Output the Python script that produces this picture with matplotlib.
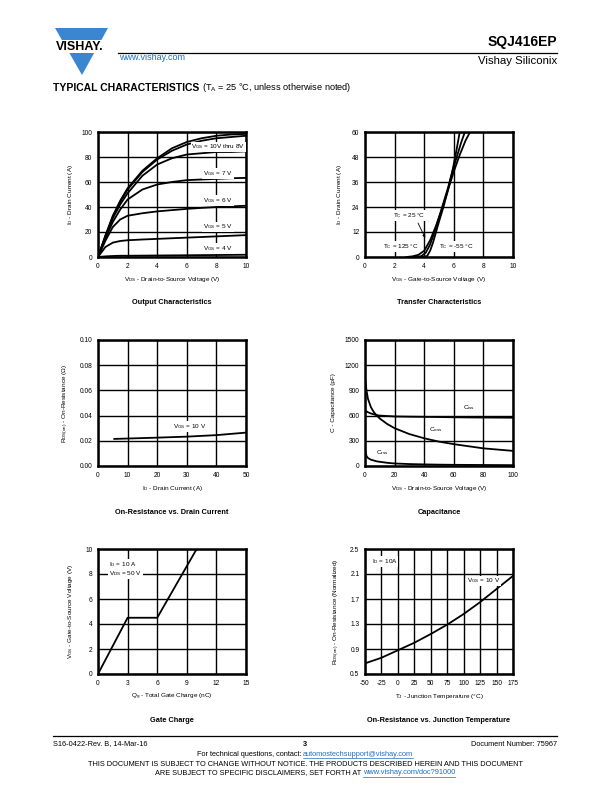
import matplotlib
matplotlib.use("Agg")
import matplotlib.pyplot as plt
from matplotlib.patches import Polygon, Rectangle
from matplotlib.lines import Line2D

plt.rcParams['font.family'] = ['Liberation Sans', 'DejaVu Sans']
plt.rcParams['mathtext.default'] = 'regular'
plt.rcParams['axes.unicode_minus'] = False

W, H = 612, 792

# ---- data ----
# output characteristics (I_D vs V_DS)
out_vds = [0, 0.5, 1, 1.5, 2, 3, 4, 5, 6, 7, 8, 9, 10]
out_id_10v = [0, 17, 33, 45, 55, 69, 79, 87, 92, 95, 97, 98, 98.5]
out_id_9v = [0, 17, 32, 44, 54, 68, 78, 85, 90, 93, 95, 96, 97]
out_id_8v = [0, 16, 31, 42, 51, 65, 74, 79, 82, 83, 84, 84, 84.5]
out_id_7v = [0, 15, 28, 38, 46, 54, 58, 60, 61.5, 62, 62.5, 63, 63.3]
out_id_6v = [0, 13, 24, 30, 33, 35, 36.5, 37.5, 38.5, 39.3, 40, 40.5, 41]
out_id_5v = [0, 8, 11.5, 12.8, 13.4, 14, 14.5, 15, 15.5, 16, 16.5, 17, 17.5]
out_id_4v = [0, 0.5, 0.8, 1, 1, 1.1, 1.2, 1.3, 1.4, 1.5, 1.6, 1.7, 1.8]
out_labels = ["V$_{GS}$ = 10V thru 8V", "V$_{GS}$ = 7 V", "V$_{GS}$ = 6 V",
              "V$_{GS}$ = 5 V", "V$_{GS}$ = 4 V"]
out_label_y = [88, 67, 45, 24, 7]

# transfer characteristics (I_D vs V_GS)
tr_vgs_125 = [2.8, 3.2, 3.6, 4.0, 4.4, 4.8, 5.2, 5.6, 6.0, 6.4, 6.8, 7.1]
tr_id_125 = [0, 0.3, 1, 3, 8, 15, 23, 32, 41, 49, 56, 60]
tr_vgs_25 = [3.4, 3.8, 4.1, 4.4, 4.7, 5.0, 5.3, 5.6, 5.9, 6.2, 6.5, 6.75]
tr_id_25 = [0, 0.4, 2, 6, 12, 19, 26, 33, 41, 48, 55, 60]
tr_vgs_m55 = [3.9, 4.2, 4.4, 4.6, 4.8, 5.0, 5.3, 5.6, 5.9, 6.2, 6.4]
tr_id_m55 = [0, 0.5, 3, 7, 12, 17, 24, 32, 41, 52, 60]

# on-resistance vs drain current
ron_id = [5.5, 10, 20, 30, 40, 50]
ron_val = [0.0215, 0.0218, 0.0225, 0.0233, 0.0245, 0.0265]

# capacitance vs V_DS
cap_vds = [0.3, 1, 2, 4, 6, 8, 10, 15, 20, 30, 40, 50, 60, 70, 80, 90, 100]
c_iss = [660, 650, 640, 625, 615, 605, 600, 595, 590, 587, 585, 583, 580, 578, 577, 576, 575]
c_oss = [1000, 900, 800, 700, 640, 600, 565, 500, 450, 380, 330, 290, 260, 235, 210, 195, 180]
c_rss = [180, 120, 95, 75, 65, 55, 50, 38, 30, 23, 19, 16, 14, 13, 12, 11, 10]

# gate charge
qg = [0, 3, 6, 10]
vgs_qg = [0, 4.5, 4.5, 10]

# normalized on-resistance vs junction temperature
tj = [-50, -25, 0, 25, 50, 75, 100, 125, 150, 175]
ron_norm = [0.67, 0.76, 0.88, 1.0, 1.14, 1.29, 1.46, 1.65, 1.86, 2.07]

fig = plt.figure(figsize=(W / 100, H / 100), dpi=100)
LBL = 4.6
BLUE = '#3a86d0'
LINK = '#1f6fc0'


def add_ax(l, t, r, b):
    return fig.add_axes([l / W, 1 - b / H, (r - l) / W, (b - t) / H])


def style(ax, xlim, ylim, xt, yt, ytl=None):
    ax.set_xlim(*xlim)
    ax.set_ylim(*ylim)
    ax.set_xticks(xt)
    ax.set_yticks(yt)
    if ytl is not None:
        ax.set_yticklabels(ytl)
    ax.grid(True, color='black', lw=1.0)
    ax.set_axisbelow(True)
    ax.tick_params(length=0, labelsize=4.8, pad=4)
    for s in ax.spines.values():
        s.set_linewidth(1.8)


def ftext(x, y, s, **kw):
    return fig.text(x / W, 1 - y / H, s, **kw)


def boxed(ax, x, y, s, **kw):
    ax.text(x, y, s, fontsize=LBL, va='center',
            bbox=dict(fc='white', ec='none', pad=0.6), **kw)


# ---- output characteristics ----
ax1 = add_ax(98, 132, 246, 257)
style(ax1, (0, 10), (0, 100), range(0, 11, 2), range(0, 101, 20))
for ys in [out_id_10v, out_id_9v, out_id_8v, out_id_7v, out_id_6v, out_id_5v, out_id_4v]:
    ax1.plot(out_vds, ys, color='black', lw=1.3)
for s, y in zip(out_labels, out_label_y):
    boxed(ax1, 9.95 if 'thru' in s else 9.1, y, s, ha='right')
ax1.set_xlabel("V$_{DS}$ - Drain-to-Source Voltage (V)", fontsize=LBL, labelpad=4)
ax1.set_ylabel("I$_{D}$ - Drain Current (A)", fontsize=LBL, labelpad=5)

# ---- transfer characteristics ----
ax2 = add_ax(365, 132, 513, 257)
style(ax2, (0, 10), (0, 60), range(0, 11, 2), range(0, 61, 12))
ax2.plot(tr_vgs_125, tr_id_125, color='black', lw=1.3)
ax2.plot(tr_vgs_25, tr_id_25, color='black', lw=1.3)
ax2.plot(tr_vgs_m55, tr_id_m55, color='black', lw=1.3)
boxed(ax2, 1.9, 20, "T$_{C}$ = 25 °C")
boxed(ax2, 1.2, 5, "T$_{C}$ = 125 °C")
boxed(ax2, 5.0, 5, "T$_{C}$ = -55 °C")
ax2.annotate("", xy=(4.15, 8), xytext=(3.5, 17.5),
             arrowprops=dict(arrowstyle='-|>', color='black', lw=0.6,
                             mutation_scale=4))
ax2.set_xlabel("V$_{GS}$ - Gate-to-Source Voltage (V)", fontsize=LBL, labelpad=4)
ax2.set_ylabel("I$_{D}$ - Drain Current (A)", fontsize=LBL, labelpad=6)

# ---- on-resistance vs drain current ----
ax3 = add_ax(98, 340, 246, 466)
style(ax3, (0, 50), (0, 0.10), range(0, 51, 10), [0, 0.02, 0.04, 0.06, 0.08, 0.10],
      ["0.00", "0.02", "0.04", "0.06", "0.08", "0.10"])
ax3.plot(ron_id, ron_val, color='black', lw=1.3)
boxed(ax3, 25.5, 0.0315, "V$_{GS}$ = 10 V")
ax3.set_xlabel("I$_{D}$ - Drain Current (A)", fontsize=LBL, labelpad=4)
ax3.set_ylabel("R$_{DS(on)}$ - On-Resistance (Ω)", fontsize=LBL, labelpad=6)

# ---- capacitance ----
ax4 = add_ax(365, 340, 513, 466)
style(ax4, (0, 100), (0, 1500), range(0, 101, 20), range(0, 1501, 300))
ax4.plot(cap_vds, c_iss, color='black', lw=1.3)
ax4.plot(cap_vds, c_oss, color='black', lw=1.3)
ax4.plot(cap_vds, c_rss, color='black', lw=1.3)
boxed(ax4, 66, 690, "C$_{iss}$")
boxed(ax4, 43.5, 430, "C$_{oss}$")
boxed(ax4, 7.5, 160, "C$_{rss}$")
ax4.set_xlabel("V$_{DS}$ - Drain-to-Source Voltage (V)", fontsize=LBL, labelpad=4)
ax4.set_ylabel("C - Capacitance (pF)", fontsize=LBL, labelpad=6)

# ---- gate charge ----
ax5 = add_ax(98, 549, 246, 674)
style(ax5, (0, 15), (0, 10), range(0, 16, 3), range(0, 11, 2))
ax5.plot(qg, vgs_qg, color='black', lw=1.3)
boxed(ax5, 1.1, 8.75, "I$_{D}$ = 10 A")
boxed(ax5, 1.1, 8.05, "V$_{DS}$ = 50 V")
ax5.set_xlabel("Q$_{g}$ - Total Gate Charge (nC)", fontsize=LBL, labelpad=4)
ax5.set_ylabel("V$_{GS}$ - Gate-to-Source Voltage (V)", fontsize=LBL, labelpad=7)

# ---- on-resistance vs junction temperature ----
ax6 = add_ax(365, 549, 513, 674)
style(ax6, (-50, 175), (0.5, 2.5), range(-50, 176, 25), [0.5, 0.9, 1.3, 1.7, 2.1, 2.5])
ax6.plot(tj, ron_norm, color='black', lw=1.3)
boxed(ax6, -40, 2.3, "I$_{D}$ = 10A")
boxed(ax6, 105, 1.99, "V$_{GS}$ = 10 V")
ax6.set_xlabel("T$_{J}$ - Junction Temperature (°C)", fontsize=LBL, labelpad=4)
ax6.set_ylabel("R$_{DS(on)}$ - On-Resistance (Normalized)", fontsize=LBL, labelpad=6)

# chart titles
for x, y, s in [(172, 303, "Output Characteristics"), (439, 303, "Transfer Characteristics"),
                (172, 512, "On-Resistance vs. Drain Current"), (439, 512, "Capacitance"),
                (172, 720, "Gate Charge"), (439, 720, "On-Resistance vs. Junction Temperature")]:
    ftext(x, y, s, fontsize=5.3, fontweight='bold', ha='center', va='center')

# ---- header ----
def fp(pts):
    return [(x / W, 1 - y / H) for x, y in pts]


fig.add_artist(Polygon(fp([(55, 28), (108, 28), (82, 75)]), closed=True,
                       fc=BLUE, ec='none', transform=fig.transFigure))
fig.add_artist(Rectangle((50 / W, 1 - 53 / H), 62 / W, 13 / H, fc='white', ec='none',
                         transform=fig.transFigure))
ftext(80, 47, "VISHAY.", fontsize=9, fontweight='bold', ha='center', va='center')
fig.add_artist(Line2D([118 / W, 557 / W], [1 - 53 / H, 1 - 53 / H], color='black', lw=0.9,
                      transform=fig.transFigure))
ftext(557, 42, "SQJ416EP", fontsize=10, fontweight='bold', ha='right', va='center')
ftext(557, 61, "Vishay Siliconix", fontsize=8.2, ha='right', va='center')
ftext(119, 58, "www.vishay.com", fontsize=6.5, color=LINK, ha='left', va='center')

renderer = fig.canvas.get_renderer()
t = ftext(53, 88, "TYPICAL CHARACTERISTICS", fontsize=7.5, fontweight='bold',
          ha='left', va='center')
tw = t.get_window_extent(renderer).width
ftext(53 + tw + 3, 88, "(T$_{A}$ = 25 °C, unless otherwise noted)", fontsize=6.6,
      ha='left', va='center')

# ---- footer ----
fig.add_artist(Line2D([53 / W, 557 / W], [1 - 736 / H, 1 - 736 / H], color='black', lw=0.9,
                      transform=fig.transFigure))
ftext(53, 744, "S16-0422-Rev. B, 14-Mar-16", fontsize=5.3, ha='left', va='center')
ftext(305, 745, "3", fontsize=5.3, fontweight='bold', ha='center', va='center')
ftext(557, 744, "Document Number: 75967", fontsize=5.3, ha='right', va='center')


def mixed_line(y, plain, link):
    a = ftext(0, y, plain, fontsize=5.3, ha='left', va='center')
    b = ftext(0, y, link, fontsize=5.3, ha='left', va='center', color=LINK)
    wa = a.get_window_extent(renderer).width
    wb = b.get_window_extent(renderer).width
    x0 = 305 - (wa + wb) / 2
    a.set_x(x0 / W)
    b.set_x((x0 + wa) / W)
    fig.add_artist(Line2D([(x0 + wa) / W, (x0 + wa + wb) / W],
                          [1 - (y + 3.5) / H] * 2, color=LINK, lw=0.5,
                          transform=fig.transFigure))


mixed_line(754, "For technical questions, contact: ", "automostechsupport@vishay.com")
ftext(305, 765, "THIS DOCUMENT IS SUBJECT TO CHANGE WITHOUT NOTICE. THE PRODUCTS DESCRIBED HEREIN AND THIS DOCUMENT",
      fontsize=5.3, ha='center', va='center')
mixed_line(773, "ARE SUBJECT TO SPECIFIC DISCLAIMERS, SET FORTH AT ", "www.vishay.com/doc?91000")

fig.savefig("out.png", dpi=100)
